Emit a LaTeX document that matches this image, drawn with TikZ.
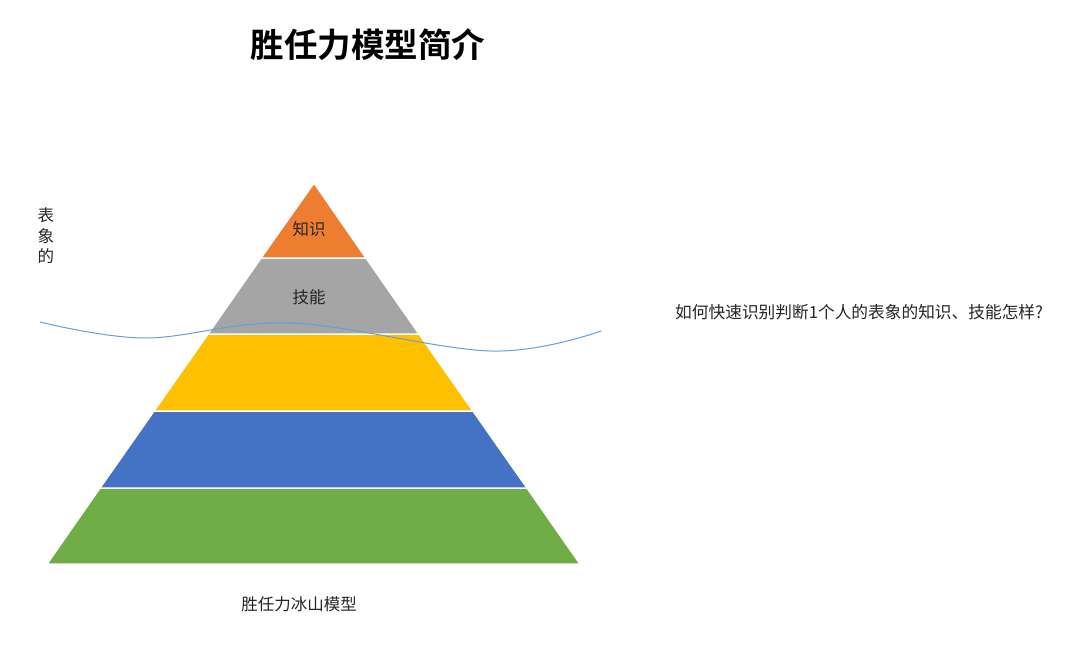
\documentclass[tikz,border=0pt]{standalone}
\usepackage{fontspec}
\setmainfont{Noto Sans CJK SC}
\newfontfamily\cjk{Noto Sans CJK SC}
\newfontfamily\cjkbold{Noto Sans CJK SC Bold}
\definecolor{wavecol}{RGB}{100,160,215}
\begin{document}
\begin{tikzpicture}[x=1pt,y=-1pt,
  layer/.style={draw=white,line width=1.5pt},
  lbl/.style={font=\cjk\fontsize{16.5}{18}\selectfont,inner sep=0pt,text=black!85},
  wave/.style={draw=wavecol,line width=1pt}]
\useasboundingbox (0,0) rectangle (1080,648);
\fill[white] (0,0) rectangle (1080,648);
% pyramid layers
\filldraw[layer,fill={rgb,255:red,112;green,173;blue,71}] (100,488) -- (527,488) -- (580,564) -- (47,564) -- cycle;
\filldraw[layer,fill={rgb,255:red,68;green,114;blue,196}] (154,411) -- (473,411) -- (527,488) -- (100,488) -- cycle;
\filldraw[layer,fill={rgb,255:red,255;green,192;blue,0}] (208,334) -- (419,334) -- (473,411) -- (154,411) -- cycle;
\filldraw[layer,fill={rgb,255:red,165;green,165;blue,165}] (261,258) -- (366,258) -- (419,334) -- (208,334) -- cycle;
\filldraw[layer,fill={rgb,255:red,237;green,125;blue,49}] (314,183) -- (366,258) -- (261,258) -- cycle;
% wave
\draw[wave] plot[smooth,tension=0.6] coordinates {(40,322) (145,338) (291,323) (491,351) (601,331)};
% texts
\node[font=\cjkbold\fontsize{33.5}{36}\selectfont,inner sep=0pt] (title) at (368,45) {胜任力模型简介};
\node[lbl] (zhishi) at (309,229) {知识};
\node[lbl] (jineng) at (309,297) {技能};
\node[lbl,align=center,font=\cjk\fontsize{16.5}{20.5}\selectfont] (biaoxiang) at (46,236) {表\\象\\的};
\node[lbl] (caption) at (299,604) {胜任力冰山模型};
\node[lbl,anchor=west,font=\cjk\fontsize{16.7}{18}\selectfont] (question) at (675,312) {如何快速识别判断1个人的表象的知识、技能怎样?};
\end{tikzpicture}
\end{document}
